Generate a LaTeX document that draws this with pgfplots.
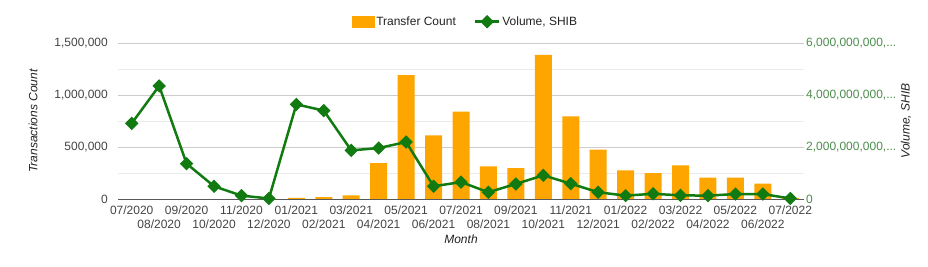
\documentclass[border=0pt]{standalone}
\usepackage{pgfplots}
\pgfplotsset{compat=1.18}
\usepackage{pgfplotstable}
\usepackage{fontspec}
\setmainfont{Liberation Sans}
\definecolor{barorange}{HTML}{FFA500}
\definecolor{linegreen}{HTML}{117A11}
\definecolor{ticktext}{HTML}{444444}
\definecolor{rtick}{HTML}{4C8C4C}
\definecolor{gridmaj}{HTML}{CCCCCC}
\definecolor{gridmin}{HTML}{EBEBEB}
\definecolor{titletext}{HTML}{222222}

\pgfplotsset{shortline legend/.style={legend image code/.code={\draw[mark repeat=2,mark phase=2,##1] plot coordinates {(0pt,0pt) (12pt,0pt) (24pt,0pt)};}}}

\pgfplotstableread{
idx count volume
0 0 2910000000
1 0 4350000000
2 0 1360000000
3 0 490000000
4 0 130000000
5 0 20000000
6 12000 3640000000
7 19000 3400000000
8 35000 1870000000
9 346000 1960000000
10 1190000 2190000000
11 612000 490000000
12 840000 650000000
13 314000 260000000
14 298000 580000000
15 1385000 910000000
16 795000 590000000
17 474000 260000000
18 276000 130000000
19 250000 200000000
20 324000 140000000
21 205000 130000000
22 205000 190000000
23 147000 190000000
24 10000 20000000
}\data

\newcommand{\fs}{\fontsize{12pt}{14pt}\selectfont}
\newcommand{\dd}{.\kern0pt.\kern0pt.}

\begin{document}
\begin{tikzpicture}
\useasboundingbox (0pt,0pt) rectangle (928pt,266pt);
\begin{axis}[
  at={(118pt,67pt)}, anchor=south west,
  scale only axis, width=686pt, height=156pt,
  xmin=-0.5, xmax=24.5, ymin=0, ymax=1500000,
  scaled y ticks=false,
  axis line style={draw=none},
  major tick length=0pt, minor tick length=0pt,
  ytick={0,500000,1000000,1500000},
  yticklabels={0,{500,000},{1,000,000},{1,500,000}},
  minor ytick={250000,750000,1250000},
  ymajorgrids, yminorgrids,
  major grid style={gridmaj, line width=1pt},
  minor grid style={gridmin, line width=1pt},
  yticklabel style={font=\fs, text=ticktext, anchor=east, inner sep=0pt, xshift=-10pt},
  xtick={0,2,4,6,8,10,12,14,16,18,20,22,24},
  xticklabels={07/2020,09/2020,11/2020,01/2021,03/2021,05/2021,07/2021,09/2021,11/2021,01/2022,03/2022,05/2022,07/2022},
  extra x ticks={1,3,5,7,9,11,13,15,17,19,21,23},
  extra x tick labels={08/2020,10/2020,12/2020,02/2021,04/2021,06/2021,08/2021,10/2021,12/2021,02/2022,04/2022,06/2022},
  extra x tick style={tick label style={yshift=-14pt}},
  xticklabel style={font=\fs, text=ticktext, anchor=north, inner sep=0pt, yshift=-6.5pt},
  xlabel={Month},
  xlabel style={font=\fs\itshape, text=titletext, at={(axis description cs:0.5,0)}, anchor=center, yshift=-40pt},
  ylabel={Transactions Count},
  ylabel style={font=\fs\itshape, text=titletext, at={(axis description cs:-0.1239,0.5)}, anchor=center, rotate=0},
]
\addplot[ybar, bar width=17pt, fill=barorange, draw=none] table[x=idx, y=count]{\data};
\draw[gray!70!black, line width=1pt] (axis cs:-0.5,0) -- (axis cs:24.5,0);
\end{axis}
\begin{axis}[
  at={(118pt,67pt)}, anchor=south west,
  scale only axis, width=686pt, height=156pt,
  xmin=-0.5, xmax=24.5, ymin=0, ymax=6000000000,
  scaled y ticks=false,
  axis line style={draw=none},
  major tick length=0pt, minor tick length=0pt,
  xtick=\empty,
  ytick={0,2000000000,4000000000,6000000000},
  yticklabels={0,{2,000,000,000,\dd},{4,000,000,000,\dd},{6,000,000,000,\dd}},
  yticklabel pos=right,
  yticklabel style={font=\fs, text=rtick, anchor=west, inner sep=0pt, xshift=2pt},
  ylabel={Volume, SHIB},
  ylabel style={font=\fs\itshape, text=titletext, at={(axis description cs:1.1487,0.5)}, anchor=center, rotate=0},
  clip=false,
  legend columns=2,
  legend style={font=\fs, text=titletext, draw=none, fill=none,
    at={(axis description cs:0.5065,1.1365)}, anchor=center,
    /tikz/every even column/.append style={column sep=16pt}},
]
\addlegendimage{legend image code/.code={\fill[barorange] (0pt,-5.5pt) rectangle (22pt,5.5pt);}}
\addlegendentry{Transfer Count}
\addplot[linegreen, line width=2.5pt, mark=square*, mark size=3.5pt, mark options={rotate=45, solid}, shortline legend]
  table[x=idx, y=volume]{\data};
\addlegendentry{Volume, SHIB}
\end{axis}
\end{tikzpicture}
\end{document}
